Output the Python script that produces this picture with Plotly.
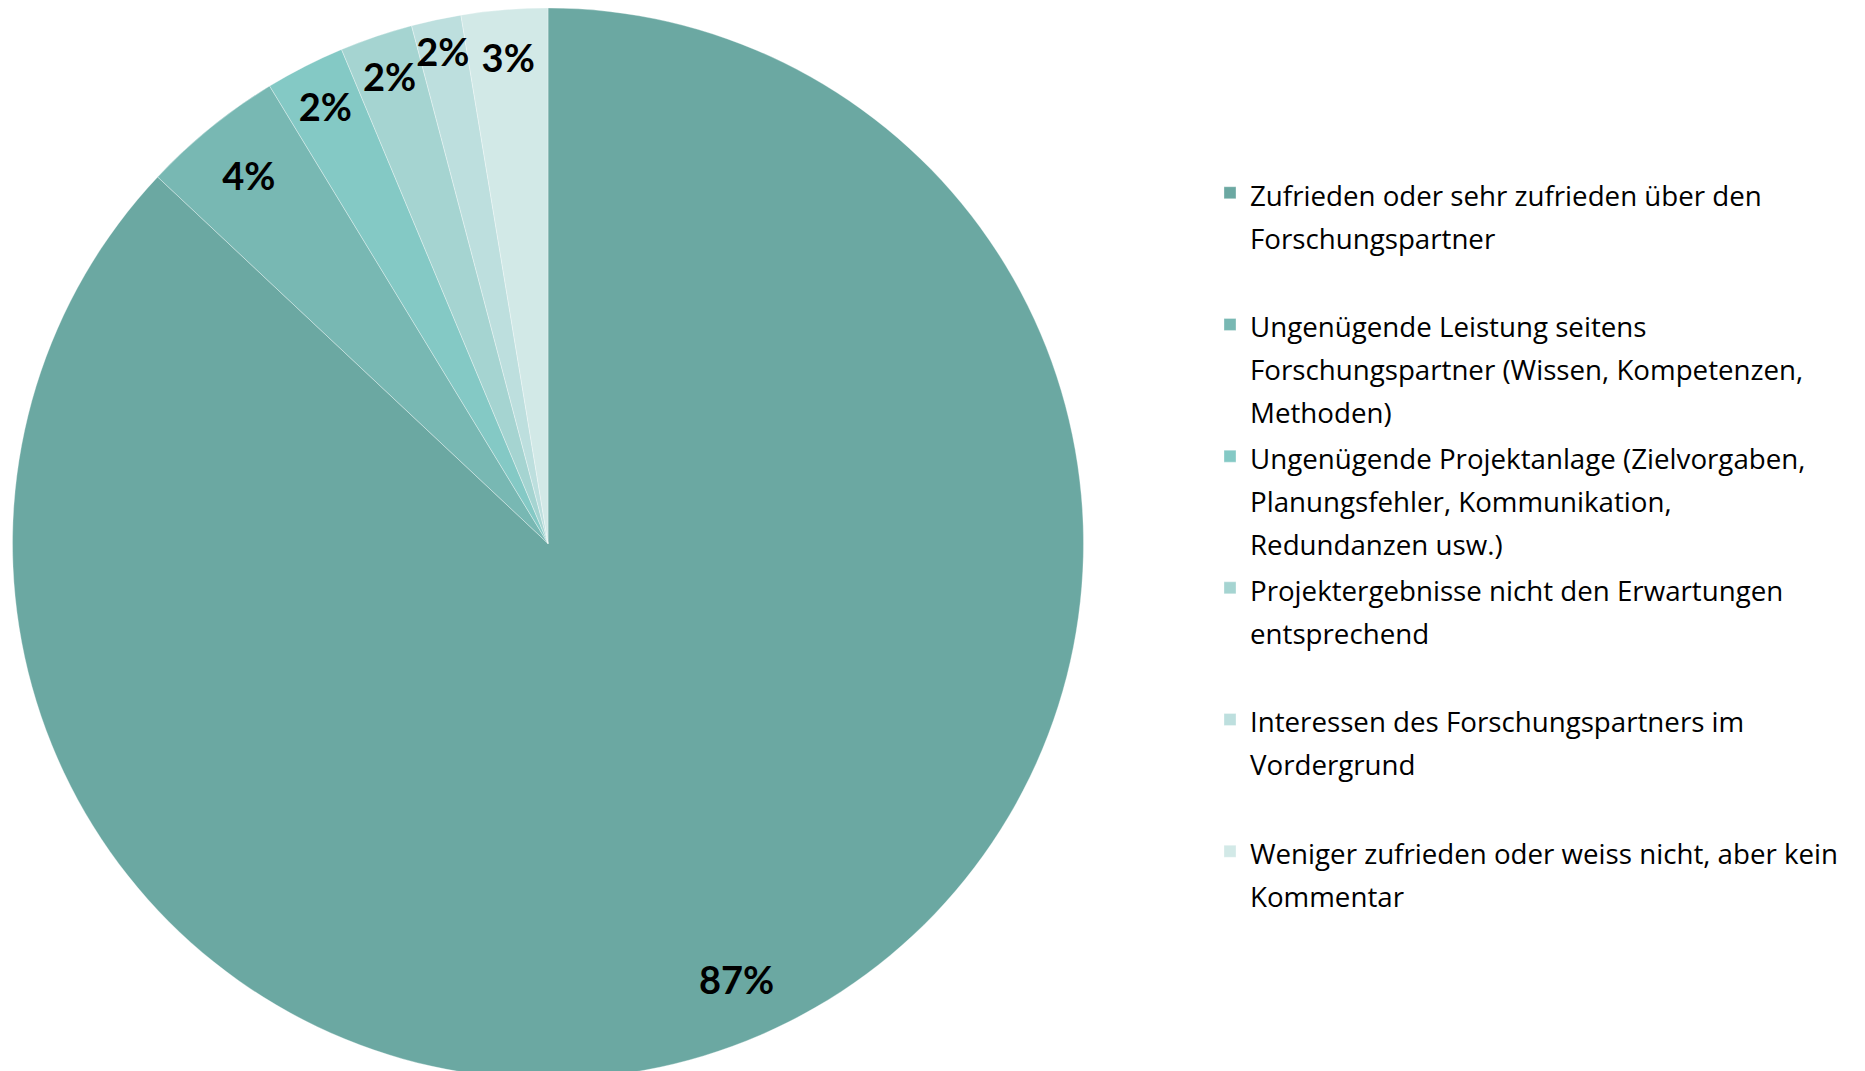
import plotly.graph_objects as go

# Data
labels = [
    "Zufrieden oder sehr zufrieden über den<br>Forschungspartner",
    "Ungenügende Leistung seitens<br>Forschungspartner (Wissen, Kompetenzen,<br>Methoden)",
    "Ungenügende Projektanlage (Zielvorgaben,<br>Planungsfehler, Kommunikation,<br>Redundanzen usw.)",
    "Projektergebnisse nicht den Erwartungen<br>entsprechend",
    "Interessen des Forschungspartners im<br>Vordergrund",
    "Weniger zufrieden oder weiss nicht, aber kein<br>Kommentar",
]
values = [87.0, 4.3, 2.4, 2.2, 1.5, 2.6]
colors = ["#6BA8A2", "#78B8B3", "#84C9C5", "#A5D4D1", "#BDDFDE", "#D2E9E7"]

# Pad every legend entry to the same number of lines so entries are evenly spaced;
# glyph size is set on the span, line spacing comes from the legend font size.
max_lines = 3
glyph_px = 27.7
legend_labels = []
for l in labels:
    lines = l.split("<br>")
    lines += [" "] * (max_lines - len(lines))
    legend_labels.append("<br>".join(
        f'<span style="font-size:{glyph_px}px">{t}</span>' for t in lines))

pie_domain = dict(x=[0.00241, 0.57668], y=[0.0, 1.0])
# slightly smaller ring, same centre, used only to place the data labels near the rim
label_domain = dict(x=[0.0067, 0.5724], y=[0.00747, 0.99253])

fig = go.Figure()

# main pie (slices + legend)
fig.add_trace(go.Pie(
    labels=legend_labels,
    values=values,
    sort=False,
    direction="clockwise",
    rotation=0,
    marker=dict(colors=colors, line=dict(color="rgba(255,255,255,0.55)", width=0.6)),
    textinfo="none",
    hoverinfo="percent",
    domain=pie_domain,
    showlegend=True,
))

# transparent outer ring carrying the data labels (inside end)
fig.add_trace(go.Pie(
    labels=legend_labels,
    values=values,
    sort=False,
    direction="clockwise",
    rotation=0,
    hole=0.8,
    marker=dict(colors=["rgba(0,0,0,0)"] * len(values), line=dict(width=0)),
    texttemplate="%{value:.0f}%",
    textposition="inside",
    insidetextorientation="horizontal",
    textfont=dict(family="Lato", size=38, color="#000000", weight="bold"),
    hoverinfo="skip",
    domain=label_domain,
    showlegend=False,
))

fig.update_layout(
    width=1865,
    height=1071,
    margin=dict(l=0, r=0, t=0, b=0),
    paper_bgcolor="#FFFFFF",
    plot_bgcolor="#FFFFFF",
    uniformtext=dict(minsize=38, mode="show"),
    legend=dict(
        x=0.6445,
        xanchor="left",
        y=0.8536,
        yanchor="top",
        valign="top",
        bgcolor="rgba(0,0,0,0)",
        font=dict(family="Open Sans", size=33, color="#000000"),
        traceorder="normal",
    ),
)

fig.write_html("out.html")
